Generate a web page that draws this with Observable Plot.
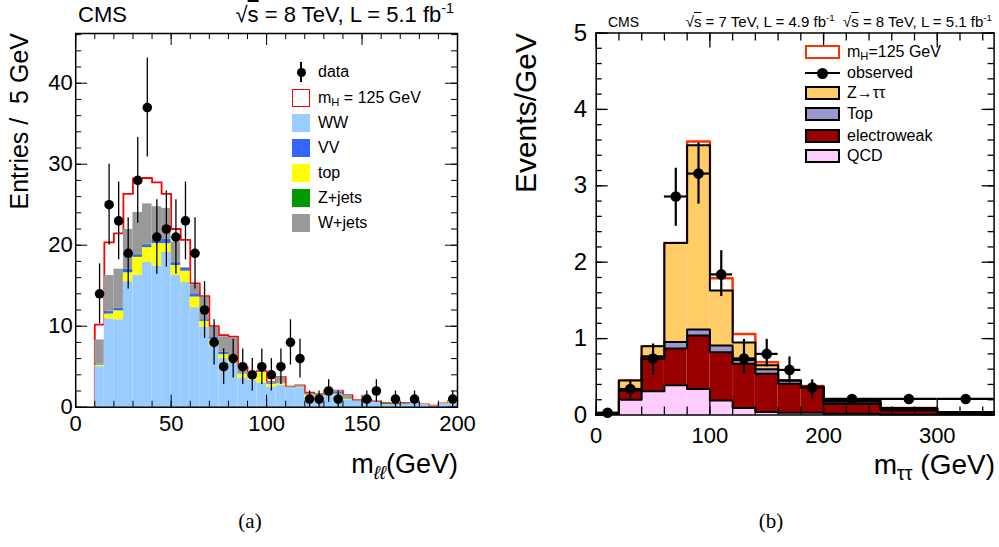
<!DOCTYPE html>
<html><head><meta charset="utf-8">
<script src="https://cdn.jsdelivr.net/npm/d3@7"></script>
<script src="https://cdn.jsdelivr.net/npm/@observablehq/plot@0.6"></script>
<style>
body{margin:0;background:#fff;}
#wrap{position:relative;width:999px;height:547px;overflow:hidden;font-family:"Liberation Sans",Arial,Helvetica,sans-serif;color:#000;background:#fff;}
.abs{position:absolute;white-space:nowrap;line-height:1;}
.rot{transform-origin:0 0;transform:rotate(-90deg) translateX(-100%);}
#left,#right{position:absolute;top:0;}
#left{left:0px;} #right{left:500px;}
sub{font-size:0.7em;vertical-align:-0.3em;line-height:0;}
sup{font-size:0.65em;vertical-align:0.6em;line-height:0;}
.ov{text-decoration:overline;}
.sw{position:absolute;box-sizing:border-box;}
</style></head><body>
<div id="wrap">
  <div id="left"></div>
  <div id="right"></div>

  <!-- panel (a) texts -->
  <div class="abs" style="left:78px;top:4px;font-size:22px;">CMS</div>
  <div class="abs" style="right:545px;top:4px;font-size:22px;">√<span class="ov">s</span> = 8 TeV, L = 5.1 fb<sup>-1</sup></div>
  <div class="abs rot" style="left:7px;top:33px;font-size:25px;">Entries /&nbsp; 5 GeV</div>
  <div class="abs" style="right:541px;top:451px;font-size:27px;">m<sub><i>ℓℓ</i></sub>(GeV)</div>
  <div class="abs" style="left:250px;top:511px;font-size:21px;font-family:'Liberation Serif','Times New Roman',serif;transform:translateX(-50%);">(a)</div>

  <!-- panel (a) legend -->
  <div class="sw" style="left:300.3px;top:62px;width:1.5px;height:20px;background:#000;"></div>
  <div class="sw" style="left:296.5px;top:67.5px;width:9px;height:9px;border-radius:50%;background:#000;"></div>
  <div class="abs" style="left:318px;top:64px;font-size:16px;">data</div>
  <div class="sw" style="left:292px;top:89px;width:18px;height:18px;border:1.5px solid #ff0000;background:#fff;"></div>
  <div class="abs" style="left:318px;top:90px;font-size:16px;">m<sub>H</sub> = 125 GeV</div>
  <div class="sw" style="left:292px;top:114px;width:18px;height:18px;background:#99ccff;"></div>
  <div class="abs" style="left:318px;top:115px;font-size:16px;">WW</div>
  <div class="sw" style="left:292px;top:139px;width:18px;height:18px;background:#3366ff;"></div>
  <div class="abs" style="left:318px;top:140px;font-size:16px;">VV</div>
  <div class="sw" style="left:292px;top:164px;width:18px;height:18px;background:#ffff00;"></div>
  <div class="abs" style="left:318px;top:165px;font-size:16px;">top</div>
  <div class="sw" style="left:292px;top:189px;width:18px;height:18px;background:#009900;"></div>
  <div class="abs" style="left:318px;top:190px;font-size:16px;">Z+jets</div>
  <div class="sw" style="left:292px;top:214px;width:18px;height:18px;background:#999999;"></div>
  <div class="abs" style="left:318px;top:215px;font-size:16px;">W+jets</div>

  <!-- panel (b) texts -->
  <div class="abs" style="left:608px;top:15px;font-size:14px;">CMS</div>
  <div class="abs" style="right:7px;top:14px;font-size:15px;">√<span class="ov">s</span> = 7 TeV, L = 4.9 fb<sup>-1</sup>&nbsp; √<span class="ov">s</span> = 8 TeV, L = 5.1 fb<sup>-1</sup></div>
  <div class="abs rot" style="left:511px;top:33px;font-size:30px;">Events/GeV</div>
  <div class="abs" style="right:4px;top:451px;font-size:28px;">m<sub>ττ</sub> (GeV)</div>
  <div class="abs" style="left:771px;top:511px;font-size:21px;font-family:'Liberation Serif','Times New Roman',serif;transform:translateX(-50%);">(b)</div>

  <!-- panel (b) legend -->
  <div class="sw" style="left:805px;top:45px;width:35px;height:14px;border:2.5px solid #ff3300;background:#fff;"></div>
  <div class="abs" style="left:847px;top:44px;font-size:16px;">m<sub>H</sub>=125 GeV</div>
  <div class="sw" style="left:805px;top:71.5px;width:35px;height:2.5px;background:#000;"></div>
  <div class="sw" style="left:817px;top:67.5px;width:11px;height:11px;border-radius:50%;background:#000;"></div>
  <div class="abs" style="left:847px;top:65px;font-size:16px;">observed</div>
  <div class="sw" style="left:805px;top:86px;width:35px;height:14px;border:2px solid #000;background:#ffcc66;"></div>
  <div class="abs" style="left:847px;top:85px;font-size:16px;">Z→ττ</div>
  <div class="sw" style="left:805px;top:107px;width:35px;height:14px;border:2px solid #000;background:#9999cc;"></div>
  <div class="abs" style="left:847px;top:106px;font-size:16px;">Top</div>
  <div class="sw" style="left:805px;top:128.5px;width:35px;height:14px;border:2px solid #000;background:#990000;"></div>
  <div class="abs" style="left:847px;top:127.5px;font-size:16px;">electroweak</div>
  <div class="sw" style="left:805px;top:148.5px;width:35px;height:14px;border:2px solid #000;background:#ffccff;"></div>
  <div class="abs" style="left:847px;top:147.5px;font-size:16px;">QCD</div>
</div>
<script>
// ---------------- Panel (a): m_ll distribution, 5 GeV bins ----------------
const llBinLo = [10,15,20,25,30,35,40,45,50,55,60,65,70,75,80,85,90,95,100,105,110,115,120,125,130,135,140,145,150,155,160,165,170,175,180,185,190,195];
const llBinWidth = 5;
const llWW     = [5.0,10.9,10.8,15.5,16.3,17.9,17.4,19.1,16.3,15.4,12.3,9.9,7.6,6.0,5.4,3.6,3.3,3.0,2.5,2.7,2.3,2.4,1.2,1.2,1.3,1.5,0.9,0.65,0.65,0.6,0.35,0.33,0.4,0.5,0.33,0.16,0.45,0.5];
const llTop    = [0.2,0.6,1.1,1.1,2.2,1.8,2.8,1.1,1.2,1.4,1.3,0.7,0.8,0.5,0.6,0.5,0.3,1.3,0.3,0.2,0.1,0.1,0.3,0.1,0.1,0.1,0.05,0.03,0.03,0.03,0.03,0.03,0.02,0.02,0.02,0.02,0.02,0.3];
const llVV     = [0.1,0.3,0.3,0.4,0.3,0.35,0.5,0.5,0.35,0.35,0.4,0.2,0.2,0.3,0.1,0.1,0.1,0.1,0.1,0.05,0.05,0.05,0.05,0.05,0.05,0.2,0.05,0.03,0.03,0.03,0.02,0.02,0.02,0.02,0,0,0,0];
const llZjets  = [0,0.05,0.05,0.05,0.05,0.05,0.05,0.05,0.05,0,0,0,0,0,0,0,0,0,0,0,0,0,0,0,0,0,0,0,0,0,0.1,0.02,0.05,0,0,0,0,0];
const llWjets  = [3.0,4.4,4.8,4.9,5.2,5.0,4.0,3.8,2.5,0.1,1.1,2.8,1.3,1.9,2.5,0.7,0.6,0.1,0.2,0.8,0.1,0.15,0.15,0.3,0.6,0.25,0.5,0.15,0.2,0.05,0,0,0,0,0,0,0,0];
const llHiggs  = [1.9,4.1,4.4,4.4,4.2,3.2,3.0,1.8,1.6,3.4,0.2,0.1,0.1,0.2,0.1,0.1,0,0,0,0,0,0,0.1,0,0,0,0,0,0,0,0,0,0,0,0,0,0,0];
const llDataX  = [12.5,17.5,22.5,27.5,32.5,37.5,42.5,47.5,52.5,57.5,62.5,67.5,72.5,77.5,82.5,87.5,92.5,97.5,102.5,107.5,112.5,117.5,122.5,127.5,132.5,137.5,142.5,147.5,152.5,157.5,162.5,167.5,172.5,177.5,182.5,187.5,192.5,197.5];
const llData   = [14,25,23,19,28,37,21,22,21,23,19,12,8,5,6,5,4,5,4,5,8,6,1,1,2,1,0,0,1,2,0,1,0,1,0,0,0,1];
const llErr    = [3.7,5.0,4.8,4.4,5.3,6.1,4.6,4.7,4.6,4.8,4.4,3.5,2.8,2.2,2.4,2.2,2.0,2.2,2.0,2.2,2.8,2.4,1.0,1.0,1.4,1.0,0,0,1.0,1.4,0,1.0,0,1.0,0,0,0,1.0];
const llNames  = ["WW","top","VV","Z+jets","W+jets"];
const llColors = ["#99ccff","#ffff00","#3366ff","#009900","#999999"];
const llXTicks = [0,50,100,150,200];
const llYTicks = [0,10,20,30,40];

// ---------------- Panel (b): m_tautau distribution ----------------
const ttBinLo  = [0,20,40,60,80,100,120,140,160,180,200,250,300];
const ttBinHi  = [20,40,60,80,100,120,140,160,180,200,250,300,350];
const ttQCD    = [0.015,0.20,0.31,0.39,0.34,0.19,0.09,0.04,0.03,0.03,0.015,0.005,0.005];
const ttEW     = [0.0,0.12,0.43,0.48,0.70,0.63,0.58,0.50,0.38,0.33,0.13,0.055,0.025];
const ttTop    = [0.0,0.02,0.03,0.085,0.08,0.09,0.05,0.06,0.04,0.01,0.03,0.02,0.005];
const ttZtt    = [0.0,0.11,0.13,1.295,2.41,0.72,0.23,0.05,0.0,0.0,0.01,0.01,0.0];
const ttHiggs  = [0,0,0,0,0.05,0.16,0.11,0.04,0,0.01,0.01,0,0];
const ttObsX   = [10,30,50,70,90,110,130,150,170,190,225,275,325];
const ttObs    = [0.03,0.34,0.74,2.86,3.16,1.84,0.74,0.80,0.59,0.36,0.21,0.21,0.21];
const ttObsLo  = [0.02,0.22,0.52,2.47,2.76,1.55,0.54,0.63,0.42,0.21,0.18,0.18,0.18];
const ttObsHi  = [0.04,0.46,0.93,3.23,3.56,2.15,0.99,0.99,0.76,0.46,0.24,0.24,0.24];
const ttNames  = ["QCD","electroweak","Top","Z→ττ"];
const ttColors = ["#ffccff","#990000","#9999cc","#ffcc66"];
const ttXTicks = [0,100,200,300];
const ttYTicks = [0,1,2,3,4,5];

// ---------------- helpers ----------------
function stackTable(lo, hi, names, seriesVals) {
  const rects = [];
  const levels = names.map(() => []);
  lo.forEach((l, i) => {
    let c = 0;
    names.forEach((n, k) => {
      const v = seriesVals[k][i];
      rects.push({x1: l, x2: hi[i], y1: c, y2: c + v, name: n});
      c += v;
      levels[k].push(c);
    });
  });
  return {rects, levels};
}
function stepPoints(lo, hi, vals, start) {
  const pts = [];
  if (start) pts.push({x: lo[0], y: 0});
  lo.forEach((l, i) => { pts.push({x: l, y: vals[i]}, {x: hi[i], y: vals[i]}); });
  return pts;
}

// ---------------- Panel (a) ----------------
{
  const hi = llBinLo.map(l => l + llBinWidth);
  const vals = [llWW, llTop, llVV, llZjets, llWjets];
  const {rects, levels} = stackTable(llBinLo, hi, llNames, vals);
  const total = levels[levels.length - 1].map((t, i) => t + llHiggs[i]);
  const redPts = stepPoints(llBinLo, hi, total, true);
  const data = llDataX.map((x, i) => ({x, n: llData[i], lo: llData[i] - llErr[i], hi: llData[i] + llErr[i]})).filter(d => d.n > 0);

  const W = 500, H = 547, mL = 75.2, mR = 43, mT = 33, mB = 140.3;
  const fw = W - mL - mR, fh = H - mT - mB;
  const xMinor = d3.range(0, 201, 10), yMinor = d3.range(0, 47, 2);
  const plot = Plot.plot({
    width: W, height: H, marginLeft: mL, marginRight: mR, marginTop: mT, marginBottom: mB,
    x: {domain: [0, 200]}, y: {domain: [0, 46.14]},
    color: {domain: llNames, range: llColors},
    style: {fontFamily: "'Liberation Sans', Arial, sans-serif", fontSize: "22px", background: "white", color: "black"},
    marks: [
      Plot.line(redPts, {x: "x", y: "y", stroke: "#ff0000", strokeWidth: 1.8}),
      Plot.rect(rects, {x1: "x1", x2: "x2", y1: "y1", y2: "y2", fill: "name"}),
      Plot.ruleX(data, {x: "x", y1: "lo", y2: "hi", stroke: "black", strokeWidth: 1.3}),
      Plot.dot(data, {x: "x", y: "n", r: 4.8, fill: "black", stroke: "none"}),
      Plot.tickX(xMinor, {x: d => d, stroke: "black", insetTop: fh - 6}),
      Plot.tickX(llXTicks, {x: d => d, stroke: "black", insetTop: fh - 12}),
      Plot.tickX(xMinor, {x: d => d, stroke: "black", insetBottom: fh - 6}),
      Plot.tickX(llXTicks, {x: d => d, stroke: "black", insetBottom: fh - 12}),
      Plot.tickY(yMinor, {y: d => d, stroke: "black", insetRight: fw - 6}),
      Plot.tickY(llYTicks, {y: d => d, stroke: "black", insetRight: fw - 12}),
      Plot.tickY(yMinor, {y: d => d, stroke: "black", insetLeft: fw - 6}),
      Plot.tickY(llYTicks, {y: d => d, stroke: "black", insetLeft: fw - 12}),
      Plot.frame({stroke: "black", strokeWidth: 1.5}),
      Plot.axisX({ticks: llXTicks, tickSize: 0, tickPadding: 8, fontSize: 22, label: null, tickFormat: d => String(d)}),
      Plot.axisY({ticks: llYTicks, tickSize: 0, tickPadding: 3, fontSize: 22, label: null, tickFormat: d => String(d)})
    ]
  });
  document.getElementById("left").appendChild(plot);
}

// ---------------- Panel (b) ----------------
{
  const vals = [ttQCD, ttEW, ttTop, ttZtt];
  const {rects, levels} = stackTable(ttBinLo, ttBinHi, ttNames, vals);
  const total = levels[levels.length - 1].map((t, i) => t + ttHiggs[i]);
  const sigPts = stepPoints(ttBinLo, ttBinHi, total, true);
  const outlines = levels.flatMap((lv, k) => stepPoints(ttBinLo, ttBinHi, lv, true).map(p => ({...p, k})));
  const obs = ttObsX.map((x, i) => ({x, y: ttObs[i], lo: ttObsLo[i], hi: ttObsHi[i], x1: ttBinLo[i], x2: ttBinHi[i]}));

  const W = 499, H = 547, mL = 95.7, mR = 5.4, mT = 32.5, mB = 132.5;
  const fw = W - mL - mR, fh = H - mT - mB;
  const xMinor = d3.range(0, 351, 20), yMinor = d3.range(0, 5.01, 0.2);
  const plot = Plot.plot({
    width: W, height: H, marginLeft: mL, marginRight: mR, marginTop: mT, marginBottom: mB,
    x: {domain: [0, 350]}, y: {domain: [0, 5]},
    color: {domain: ttNames, range: ttColors},
    style: {fontFamily: "'Liberation Sans', Arial, sans-serif", fontSize: "24px", background: "white", color: "black"},
    marks: [
      Plot.line(sigPts, {x: "x", y: "y", stroke: "#ff3300", strokeWidth: 2.5}),
      Plot.rect(rects, {x1: "x1", x2: "x2", y1: "y1", y2: "y2", fill: "name"}),
      Plot.line(outlines, {x: "x", y: "y", z: "k", stroke: "black", strokeWidth: 2}),
      Plot.ruleY(obs, {y: "y", x1: "x1", x2: "x2", stroke: "black", strokeWidth: 2.2}),
      Plot.ruleX(obs, {x: "x", y1: "lo", y2: "hi", stroke: "black", strokeWidth: 2.2}),
      Plot.dot(obs, {x: "x", y: "y", r: 5.3, fill: "black", stroke: "none"}),
      Plot.tickX(xMinor, {x: d => d, stroke: "black", strokeWidth: 1.3, insetTop: fh - 8}),
      Plot.tickX(ttXTicks, {x: d => d, stroke: "black", strokeWidth: 1.3, insetTop: fh - 15}),
      Plot.tickX(xMinor, {x: d => d, stroke: "black", strokeWidth: 1.3, insetBottom: fh - 8}),
      Plot.tickX(ttXTicks, {x: d => d, stroke: "black", strokeWidth: 1.3, insetBottom: fh - 15}),
      Plot.tickY(yMinor, {y: d => d, stroke: "black", strokeWidth: 1.3, insetRight: fw - 6}),
      Plot.tickY(ttYTicks, {y: d => d, stroke: "black", strokeWidth: 1.3, insetRight: fw - 12}),
      Plot.tickY(yMinor, {y: d => d, stroke: "black", strokeWidth: 1.3, insetLeft: fw - 6}),
      Plot.tickY(ttYTicks, {y: d => d, stroke: "black", strokeWidth: 1.3, insetLeft: fw - 12}),
      Plot.frame({stroke: "black", strokeWidth: 1.5}),
      Plot.axisX({ticks: ttXTicks, tickSize: 0, tickPadding: 12, fontSize: 22, label: null, tickFormat: d => String(d)}),
      Plot.axisY({ticks: ttYTicks, tickSize: 0, tickPadding: 9, fontSize: 24, label: null, tickFormat: d => String(d)})
    ]
  });
  document.getElementById("right").appendChild(plot);
}
</script>
</body></html>
